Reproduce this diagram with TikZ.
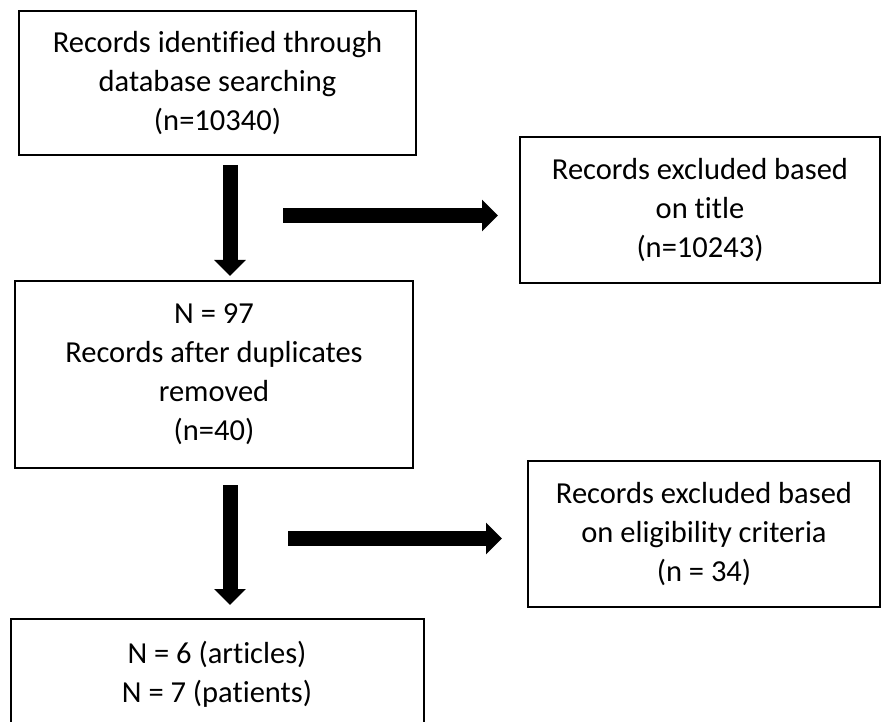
\documentclass[tikz,border=0pt]{standalone}
\usepackage{fontspec}
\setmainfont{Carlito}[Ligatures=NoCommon]
\usetikzlibrary{arrows.meta}

\tikzset{every picture/.style={line width=0.75pt}}
\tikzset{
  stagebox/.style={draw, line width=2pt, align=center, inner sep=0pt,
    font=\fontsize{30.5}{39}\selectfont},
  blockarrow/.style={line width=15pt, -{Triangle[width=31pt,length=16pt]}}
}

\begin{document}
\begin{tikzpicture}[x=1pt,y=1pt,yscale=-1,xscale=1]
\useasboundingbox (0,0) rectangle (881,722);

% Boxes
\node [stagebox, minimum width=397, minimum height=144] (search) at (217.5,83)
  {Records identified through\\database searching\\(n=10340)};
\node [stagebox, minimum width=398, minimum height=187] (dedup) at (214,374.5)
  {N = 97\\Records after duplicates\\removed\\(n=40)};
\node [stagebox, minimum width=413, minimum height=110] (final) at (217,674)
  {N = 6 (articles)\\N = 7 (patients)};
\node [stagebox, minimum width=360, minimum height=146] (extitle) at (700,210)
  {Records excluded based\\on title\\(n=10243)};
\node [stagebox, minimum width=352, minimum height=146] (exelig) at (704,534)
  {Records excluded based\\on eligibility criteria\\(n = 34)};

% Free ends of the side arrows
\coordinate (titlestart) at (283,215.5);
\coordinate (eligstart) at (288,538.5);

% Arrows
\draw [blockarrow, shorten <=10pt, shorten >=5pt] (230,155) -- (230,281);
\draw [blockarrow, shorten <=17pt, shorten >=14pt] (230,468) -- (230,619);
\draw [blockarrow, shorten >=21pt] (titlestart) -- (titlestart -| extitle.west);
\draw [blockarrow, shorten >=25pt] (eligstart) -- (eligstart -| exelig.west);

\end{tikzpicture}
\end{document}
